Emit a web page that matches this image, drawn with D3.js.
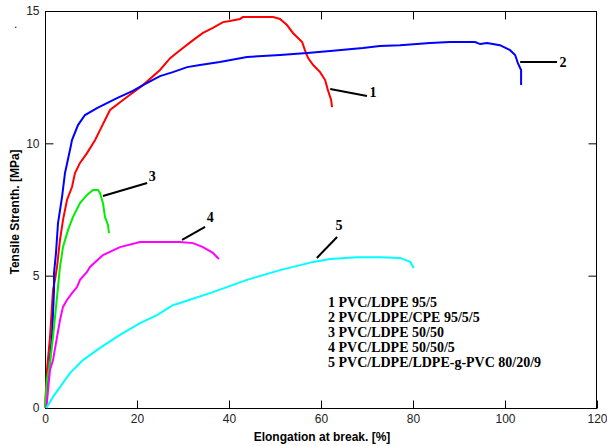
<!DOCTYPE html>
<html lang="en">
<head>
<meta charset="UTF-8">
<script src="https://cdn.jsdelivr.net/npm/d3@7"></script>
<style>
  body { margin: 0; background: #fff; }
  .tick_text { font-family: 'Liberation Sans', Arial, sans-serif; font-size: 12px; fill: #222; }
  .axis_title { font-family: 'Liberation Sans', Arial, sans-serif; font-size: 12px; font-weight: bold; fill: #000; }
  .legend_text { font-family: 'Liberation Serif', 'Times New Roman', serif; font-size: 14px; font-weight: bold; fill: #000; }
  .num_label { font-family: 'Liberation Serif', 'Times New Roman', serif; font-size: 14px; font-weight: bold; fill: #000; }
</style>
</head>
<body>
<div id="chart"></div>
<script>
// curves: [elongation %, strength MPa]
var curve1 = [[0,0],[0.43,1.44],[1.09,2.68],[1.74,4.46],[2.17,4.84],[2.61,5.33],[3.26,6.35],[3.91,7.1],
  [4.78,7.86],[5.87,8.35],[6.52,8.88],[7.61,9.26],[9.13,9.63],[10.87,10.12],[11.96,10.5],[14.13,11.26],
  [17.83,11.75],[21.3,12.2],[25,12.77],[27.2,13.22],[29.35,13.52],[32.2,13.9],[34.35,14.17],[36.5,14.36],
  [38.7,14.58],[40.2,14.62],[42.4,14.7],[43,14.77],[49.6,14.77],[51.1,14.7],[52.6,14.47],[53.9,14.17],
  [55.9,13.83],[56.5,13.52],[57.2,13.22],[58.3,12.96],[59.8,12.69],[60.9,12.39],[61.5,12.01],[62.2,11.64],[62.4,11.37]];
var curve2 = [[0.2,0],[0.65,1.06],[1.52,2.68],[1.96,4.46],[1.96,5.1],[2.39,5.86],[2.83,6.99],[3.7,7.97],
  [4.35,8.88],[5.43,9.75],[5.87,10.12],[7.17,10.69],[8.7,11.07],[11.3,11.33],[15.65,11.71],[19.1,11.98],
  [21.3,12.2],[25,12.54],[27.8,12.69],[30.9,12.88],[33.7,12.96],[38,13.07],[43.9,13.26],[51.1,13.34],
  [57,13.41],[62,13.49],[69.1,13.6],[72.8,13.68],[77.2,13.71],[83.7,13.79],[88,13.83],[93.5,13.83],
  [94.6,13.75],[96.1,13.79],[98.9,13.71],[101.1,13.52],[102.2,13.34],[102.8,13.03],[103.5,12.77],[103.5,12.2]];
var curve3 = [[0,0],[0.43,1.06],[1.09,1.7],[1.74,2.68],[2.61,4.19],[3.26,5.33],[3.91,6.08],[5,6.72],
  [6.09,7.22],[7.61,7.74],[9.13,8.05],[10.43,8.24],[11.52,8.24],[11.96,8.12],[12.61,7.74],[13.04,7.22],
  [13.7,6.91],[13.91,6.61]];
var curve4 = [[0.3,0],[1.09,1.44],[1.74,1.81],[2.61,2.68],[3.26,3.32],[3.91,3.82],[4.78,4.08],[5.87,4.34],
  [6.96,4.57],[7.61,4.84],[9.13,5.14],[9.78,5.33],[12.61,5.78],[16.3,6.08],[20.65,6.27],[24.35,6.27],
  [29.35,6.27],[32.2,6.23],[34.35,6.08],[36.5,5.86],[37.8,5.63]];
var curve5 = [[0.3,0],[1.74,0.42],[3.26,0.79],[5.43,1.32],[8.26,1.81],[11.96,2.27],[16.3,2.76],[20.65,3.21],
  [24.35,3.51],[27.8,3.89],[29.35,3.97],[36.5,4.38],[43.9,4.84],[51.1,5.21],[58.3,5.52],[62,5.63],
  [67.8,5.7],[72.8,5.7],[77.2,5.67],[79.35,5.52],[80.2,5.29]];

var curveColors = ["#ff0000", "#0000ff", "#00ee00", "#ff00ff", "#00ffff"];
var xTicks = [0, 20, 40, 60, 80, 100, 120];
var yTicks = [0, 5, 10, 15];
var legendItems = ["1 PVC/LDPE 95/5", "2 PVC/LDPE/CPE 95/5/5", "3 PVC/LDPE 50/50",
  "4 PVC/LDPE 50/50/5", "5 PVC/LDPE/LDPE-g-PVC 80/20/9"];
// leader lines: [from, to, label position]
var leaders = [
  {n: "1", a: [62.0, 12.05], b: [70.0, 11.79], t: [71.3, 11.94]},
  {n: "2", a: [103.3, 13.07], b: [111.3, 13.07], t: [112.6, 13.07]},
  {n: "3", a: [12.6, 8.01], b: [22.2, 8.5], t: [23.3, 8.76]},
  {n: "4", a: [29.8, 6.35], b: [34.8, 6.84], t: [35.9, 7.22]},
  {n: "5", a: [59.1, 5.67], b: [63.5, 6.46], t: [63.9, 6.91]}
];

var W = 607, H = 446;
var plotL = 45, plotT = 11, plotR = 597, plotB = 408;

var svg = d3.select("#chart").append("svg")
  .attr("width", W).attr("height", H);

var x = d3.scaleLinear().domain([0, 120]).range([plotL, plotR]);
var y = d3.scaleLinear().domain([0, 15]).range([plotB, plotT]);

// frame
svg.append("rect")
  .attr("x", plotL + 0.5).attr("y", plotT + 0.5)
  .attr("width", plotR - plotL - 1).attr("height", plotB - plotT)
  .attr("fill", "none").attr("stroke", "#000").attr("stroke-width", 1);

// ticks pointing inward, on all four sides
function styleAxis(g) {
  g.select(".domain").remove();
  g.selectAll(".tick line").attr("stroke", "#000");
  g.selectAll(".tick text").attr("class", "tick_text");
}
svg.append("g").attr("transform", "translate(0," + (plotB + 0.5) + ")")
  .call(d3.axisBottom(x).tickValues(xTicks).tickSizeInner(-8).tickSizeOuter(0).tickPadding(6))
  .call(styleAxis);
svg.append("g").attr("transform", "translate(0," + (plotT + 0.5) + ")")
  .call(d3.axisTop(x).tickValues(xTicks.slice(1, -1)).tickSizeInner(-8).tickSizeOuter(0).tickFormat(""))
  .call(styleAxis);
svg.append("g").attr("transform", "translate(" + (plotL + 0.5) + ",0)")
  .call(d3.axisLeft(y).tickValues(yTicks).tickSizeInner(-8).tickSizeOuter(0).tickPadding(6))
  .call(styleAxis);
svg.append("g").attr("transform", "translate(" + (plotR - 0.5) + ",0)")
  .call(d3.axisRight(y).tickValues(yTicks.slice(1, -1)).tickSizeInner(-8).tickSizeOuter(0).tickFormat(""))
  .call(styleAxis);

// curves
var line = d3.line().x(function(d) { return x(d[0]); }).y(function(d) { return y(d[1]); });
[curve1, curve2, curve3, curve4, curve5].forEach(function(c, i) {
  svg.append("path").datum(c)
    .attr("d", line)
    .attr("fill", "none")
    .attr("stroke", curveColors[i])
    .attr("stroke-width", 2);
});

// leader lines and numbers
leaders.forEach(function(l) {
  svg.append("line")
    .attr("x1", x(l.a[0])).attr("y1", y(l.a[1]))
    .attr("x2", x(l.b[0])).attr("y2", y(l.b[1]))
    .attr("stroke", "#000").attr("stroke-width", 2);
  svg.append("text").attr("class", "num_label")
    .attr("x", x(l.t[0])).attr("y", y(l.t[1]) + 5)
    .attr("text-anchor", "middle")
    .text(l.n);
});

// legend
svg.selectAll(".legend_text").data(legendItems).enter()
  .append("text").attr("class", "legend_text")
  .attr("x", 328)
  .attr("y", function(d, i) { return 307 + i * 15; })
  .text(function(d) { return d; });

// axis titles
svg.append("text").attr("class", "axis_title")
  .attr("x", 322).attr("y", 441)
  .attr("text-anchor", "middle")
  .text("Elongation at break. [%]");

svg.append("text").attr("class", "axis_title")
  .attr("transform", "translate(19,212) rotate(-90)")
  .attr("text-anchor", "middle")
  .text("Tensile Strenth. [MPa]");

// stray dot in the original scan
svg.append("text").attr("class", "tick_text")
  .attr("x", 14).attr("y", 28).text(".");
</script>
</body>
</html>
